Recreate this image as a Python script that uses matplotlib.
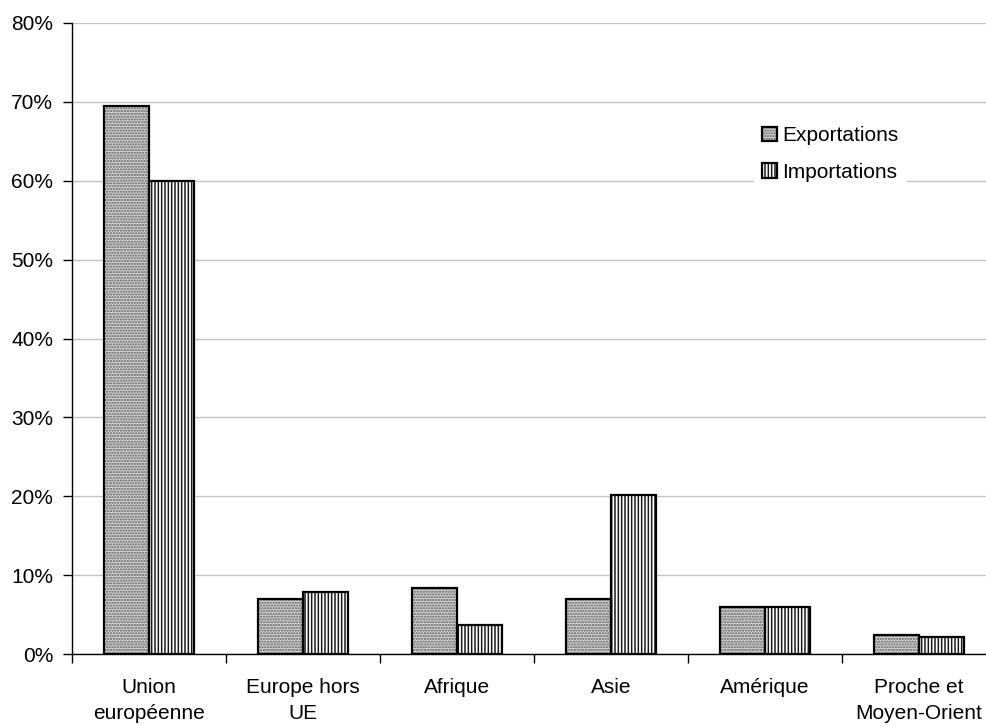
import matplotlib
matplotlib.use("Agg")
import matplotlib.pyplot as plt
import numpy as np
from matplotlib.patches import Patch
from matplotlib.legend_handler import HandlerTuple

plt.rcParams['font.family'] = ['Liberation Sans', 'DejaVu Sans']
plt.rcParams['hatch.linewidth'] = 1.1

categories = ["Union\neuropéenne", "Europe hors\nUE", "Afrique", "Asie",
              "Amérique", "Proche et\nMoyen-Orient"]
exportations = [69.5, 7.0, 8.4, 7.0, 6.0, 2.4]
importations = [60.0, 7.8, 3.7, 20.1, 6.0, 2.1]
series_names = ["Exportations", "Importations"]
y_ticks = [0, 10, 20, 30, 40, 50, 60, 70, 80]

W, H = 986, 726
FS = 15.0
fig = plt.figure(figsize=(W / 100, H / 100), dpi=100)
ax = fig.add_axes([72 / W, (H - 654) / H, (996 - 72) / W, (654 - 23) / H])

x = np.arange(len(categories))
bw = 0.29

exp_style = dict(facecolor="#d6d6d6", hatch="......", edgecolor="#5c5c5c", linewidth=0)
imp_style = dict(facecolor="white", hatch="|||||", edgecolor="#1a1a1a", linewidth=0)
outline = dict(fill=False, edgecolor="black", linewidth=1.6)

ax.bar(x - bw / 2, exportations, bw, zorder=3, **exp_style)
ax.bar(x - bw / 2, exportations, bw, zorder=4, **outline)
ax.bar(x + bw / 2, importations, bw, zorder=3, **imp_style)
ax.bar(x + bw / 2, importations, bw, zorder=4, **outline)

ax.set_xlim(-0.5, len(categories) - 0.5)
ax.set_ylim(0, 80)
ax.set_yticks(y_ticks)
ax.set_yticklabels([f"{v}%" for v in y_ticks])
ax.yaxis.grid(True, color="#c4c4c4", linewidth=1.0, zorder=0)
ax.set_axisbelow(True)

# category labels centred, ticks at category boundaries
ax.set_xticks(x)
ax.set_xticklabels(categories, linespacing=1.48)
ax.tick_params(axis="x", which="major", length=0, pad=17, labelsize=FS)
ax.set_xticks(np.arange(-0.5, len(categories)), minor=True)
ax.tick_params(axis="x", which="minor", length=6.5, width=1, direction="out")
ax.tick_params(axis="y", length=6.5, width=1, direction="out", pad=7, labelsize=FS)

for s in ["top", "right"]:
    ax.spines[s].set_visible(False)
for s in ["left", "bottom"]:
    ax.spines[s].set_linewidth(1)
    ax.spines[s].set_color("black")

handles = [
    (Patch(**exp_style), Patch(**outline)),
    (Patch(**imp_style), Patch(**outline)),
]
leg = fig.legend(handles, series_names, loc="upper left",
                 bbox_to_anchor=(754 / W, 1 - 118 / H), borderaxespad=0,
                 handler_map={tuple: HandlerTuple(ndivide=1, pad=0)},
                 fontsize=FS, frameon=True, fancybox=False, framealpha=1,
                 handlelength=0.7, handleheight=0.7, handletextpad=0.25,
                 labelspacing=0.85, borderpad=0.4)
leg.get_frame().set_edgecolor("none")
leg.get_frame().set_facecolor("white")

fig.savefig("out.png", dpi=100)
